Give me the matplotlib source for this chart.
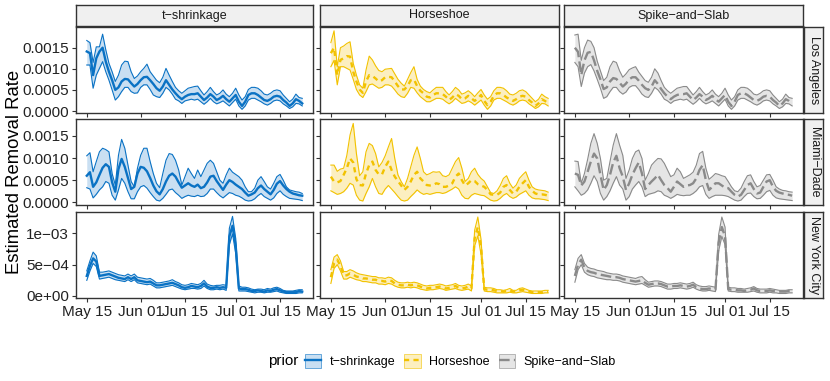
import numpy as np
import pandas as pd
import matplotlib
matplotlib.use("Agg")
import matplotlib.pyplot as plt
import matplotlib.dates as mdates
from matplotlib.patches import Patch
from matplotlib.lines import Line2D

plt.rcParams['font.family'] = ['Liberation Sans', 'DejaVu Sans']

# daily estimates from May 15, values in units of 1e-5
start_date = "2020-05-15"
cities = ["Los Angeles", "Miami\u2212Dade", "New York City"]
priors = ["t\u2212shrinkage", "Horseshoe", "Spike\u2212and\u2212Slab"]

##===================== Los Angeles =====================
la_t_hi = [167,162,115,152,152,182,145,113,93,70, 85,109,118,117,93,77,83,93,101,111,
           93,83,73,67,80,101,85,70,56,48, 42,48,54,56,58,59,48,38,46,56,
           46,38,42,50,40,34,42,54,38,26, 34,51,56,56,54,48,40,38,42,48, 50,48,38,30,22,28,40,32,30]
la_t_mid = [141,137,85,125,141,150,117,93,73,50, 56,70,76,75,66,58,64,73,80,81,
            73,64,54,48,58,73,62,51,42,34, 28,34,38,40,40,42,34,26,32,40,
            34,26,30,36,28,22,30,38,22,12, 22,38,42,42,38,32,26,24,28,34, 36,34,26,20,12,18,28,24,18]
la_t_lo = [109,109,54,85,101,117,93,73,50,26, 34,46,56,56,46,42,43,56,62,62,
           51,38,34,32,42,56,50,40,28,24, 18,24,26,28,26,28,22,16,22,30,
           22,17,20,24,18,12,20,28,12,4, 12,26,30,30,26,22,17,14,18,24, 26,24,17,12,6,10,18,17,12]

la_hs_hi = [162,190,105,150,154,160,164,113,85,62, 54,97,130,121,107,96,93,99,100,101,
            88,75,66,59,75,91,105,75,59,51, 46,43,50,56,56,56,46,38,46,56,
            50,40,43,48,42,34,43,51,38,28, 34,48,56,56,54,48,40,38,42,48, 50,46,38,30,22,28,40,34,30]
la_hs_mid = [137,150,85,121,125,130,129,93,70,51, 43,70,85,83,77,70,73,80,81,80,
             70,59,51,51,59,73,75,59,48,42, 34,32,38,42,42,40,34,26,32,40,
             36,28,30,36,30,24,30,38,24,14, 22,36,42,42,38,32,28,24,28,34, 36,34,26,20,12,18,28,24,18]
la_hs_lo = [105,120,62,105,105,101,97,75,51,38, 32,46,62,64,59,54,56,62,62,59,
            50,40,34,32,42,56,54,43,34,28, 22,22,26,30,30,28,22,17,22,30,
            24,18,20,24,20,14,20,26,14,4, 12,26,30,30,26,22,17,14,18,24, 26,24,17,12,6,10,18,17,12]

la_ss_hi = [180,182,120,150,168,165,150,118,95,72, 80,105,118,115,95,80,88,98,102,105,
            92,82,72,68,80,100,90,72,56,48, 42,48,54,56,58,58,48,38,46,56,
            46,38,42,50,40,34,42,54,38,26, 34,50,56,56,54,48,40,38,42,48, 50,48,38,30,22,28,40,32,30]
la_ss_mid = [150,140,85,120,138,140,120,95,75,52, 56,70,78,76,67,58,65,75,80,80,
             72,62,54,50,58,73,64,52,42,34, 28,34,38,40,40,42,34,26,32,40,
             34,26,30,36,28,22,30,38,22,12, 22,38,42,42,38,32,26,24,28,34, 36,34,26,20,12,18,28,24,18]
la_ss_lo = [115,105,58,90,105,110,95,75,54,30, 34,46,56,56,46,40,45,56,60,60,
            51,40,34,32,42,56,50,40,28,24, 18,24,26,28,26,28,22,16,22,30,
            22,17,20,24,18,12,20,28,12,4, 12,26,30,30,26,22,17,14,18,24, 26,24,17,12,6,10,18,17,12]

##===================== Miami-Dade =====================
mi_t_hi = [105,112,69,92,114,122,119,114,65,39, 106,142,122,84,47,35,77,106,122,122,
           92,65,43,33,65,95,110,108,95,73, 39,58,77,65,54,73,58,73,88,95,
           88,69,50,43,62,77,68,63,58,50, 35,24,24,32,50,58,47,35,30,43, 58,63,50,35,28,26,24,23,20]
mi_t_mid = [60,68,35,45,62,78,86,80,45,24, 75,98,80,55,30,35,65,80,78,70,
            55,38,25,18,30,47,60,65,58,45, 33,38,43,38,35,40,32,35,45,58,
            60,48,38,28,40,50,46,40,35,30, 22,15,18,22,32,38,30,24,18,28, 42,48,38,30,24,20,18,16,15]
mi_t_lo = [33,30,10,18,28,35,47,43,16,5, 28,54,43,24,8,8,24,35,38,32,
           22,13,5,3,9,18,28,30,22,16, 9,13,16,14,13,16,13,14,20,30,
           30,22,15,10,16,22,20,16,14,10, 5,3,4,8,15,20,13,9,5,10, 20,26,18,13,9,8,7,6,4]

mi_hs_hi = [84,84,70,75,77,106,152,178,110,60, 69,114,133,128,110,80,90,105,125,144,
            99,62,47,35,54,80,106,125,99,69, 62,65,69,68,69,60,58,62,77,92,
            101,77,47,54,69,77,63,54,48,35, 22,20,26,38,54,60,43,32,39,54, 62,69,50,35,30,28,27,26,23]
mi_hs_mid = [58,47,45,48,62,77,99,90,52,39, 38,65,84,92,73,63,63,80,92,73,
             58,48,38,28,35,47,62,69,54,47, 39,38,39,43,41,35,35,38,43,58,
             65,50,38,43,50,48,41,38,35,28, 18,17,17,22,35,39,28,20,24,35, 43,50,35,26,20,18,18,17,15]
mi_hs_lo = [26,22,18,20,24,32,43,39,16,5, 3,20,35,54,35,20,18,30,38,30,
            22,13,5,3,5,13,20,28,22,18, 20,18,20,22,22,20,22,26,30,35,
            30,16,9,8,16,20,18,16,15,10, 5,3,4,9,16,20,13,9,12,18, 22,26,16,10,8,8,7,6,4]

mi_ss_hi = [93,92,43,65,97,133,155,133,99,50, 54,92,129,155,129,106,54,73,99,114,
            118,99,50,65,84,92,99,98,88,73, 58,62,77,69,54,58,62,68,84,110,
            115,77,52,58,65,63,60,58,47,35, 26,24,32,47,60,62,47,35,38,50, 62,63,50,35,30,27,26,24,23]
mi_ss_mid = [65,62,38,47,69,92,110,99,62,28, 39,62,90,105,77,58,28,43,62,77,
             90,65,30,39,47,54,62,50,39,32, 24,35,47,41,35,38,39,43,54,73,
             84,50,28,35,43,43,38,33,32,24, 17,13,17,28,39,43,30,20,22,35, 47,50,35,26,22,20,18,17,15]
mi_ss_lo = [35,26,16,20,28,43,60,47,20,5, 13,26,43,58,39,30,5,13,30,39,
            47,35,13,18,20,22,26,24,16,13, 9,13,18,16,15,16,16,20,26,35,
            38,18,9,13,16,16,16,15,13,9, 5,3,5,13,20,21,13,8,9,16, 24,27,16,10,8,7,6,5,4]

##===================== New York City =====================
ny_t_hi = [40,56,70,64,38,38,39,40,38,36, 34,33,32,35,32,35,30,29,28,27,
           28,25,21,21,22,23,24,26,23,21, 18,17,18,20,19,18,20,25,19,17,
           16,17,17,18,17,108,127,92,16,14, 14,13,11,10,11,11,10,12,11,13, 14,12,9,8,8,8,9,10,10]
ny_t_mid = [32,48,60,55,32,33,34,35,33,31, 29,28,27,30,27,30,25,24,23,22,
            23,20,17,17,18,19,20,21,19,17, 14,13,14,16,15,14,16,20,15,13,
            13,14,13,14,13,95,112,80,12,11, 11,10,8,8,9,8,7,9,8,10, 11,9,7,6,6,6,6,8,7]
ny_t_lo = [25,40,52,47,27,28,29,30,28,26, 25,24,23,26,23,26,21,20,19,18,
           19,16,13,13,14,15,16,17,15,13, 11,10,11,12,12,11,12,16,12,10,
           10,11,10,11,9,82,99,68,8,8, 8,7,6,5,6,6,5,6,6,7, 8,6,5,4,4,4,4,5,5]

ny_hs_hi = [42,62,66,56,39,39,42,40,37,35, 34,33,32,31,31,29,29,28,30,29,
            25,22,21,21,22,21,22,21,19,17, 16,17,17,18,19,18,16,17,18,20,
            17,16,17,19,16,105,126,90,14,13, 13,12,10,10,9,10,12,9,9,12, 13,11,9,8,8,8,8,9,9]
ny_hs_mid = [30,52,58,48,33,33,36,34,31,30, 28,28,27,26,26,24,24,23,25,24,
             20,18,17,17,18,17,18,17,15,13, 12,13,13,14,15,14,12,13,14,16,
             13,12,13,15,12,92,110,78,11,10, 10,9,8,8,7,8,9,7,7,9, 10,9,7,6,6,6,6,7,7]
ny_hs_lo = [20,44,50,40,27,27,30,28,26,25, 23,23,22,21,21,19,19,18,20,19,
            16,14,13,13,14,13,14,13,11,10, 9,10,10,11,12,11,9,10,11,12,
            10,9,10,11,8,80,96,66,8,7, 7,6,5,5,5,5,6,5,5,6, 7,6,5,4,4,4,4,5,5]

ny_ss_hi = [42,60,66,52,46,44,43,41,40,39, 37,36,35,35,34,32,31,30,29,28,
            30,31,26,22,23,24,24,23,21,19, 19,20,20,21,20,19,20,22,18,16,
            15,15,16,15,14,98,126,110,14,13, 13,12,12,11,12,13,15,12,11,11, 11,12,11,10,9,9,9,10,10]
ny_ss_mid = [32,50,58,45,40,38,37,35,34,33, 32,31,30,30,29,27,26,25,24,23,
             24,25,21,18,19,20,20,19,17,15, 15,16,16,17,16,15,16,18,14,12,
             11,11,12,11,10,85,110,95,11,10, 10,9,9,8,9,10,12,9,8,8, 8,9,8,7,7,7,7,8,8]
ny_ss_lo = [22,42,50,38,34,32,31,29,28,27, 26,26,25,25,24,22,21,20,19,18,
            19,20,17,14,15,16,16,15,13,11, 11,12,12,13,12,11,12,14,11,9,
            8,8,9,8,7,72,95,82,8,7, 7,6,6,6,6,7,8,6,5,5, 5,6,5,5,4,4,4,5,5]

panels = {
    (0, 0): (la_t_lo, la_t_mid, la_t_hi), (0, 1): (la_hs_lo, la_hs_mid, la_hs_hi), (0, 2): (la_ss_lo, la_ss_mid, la_ss_hi),
    (1, 0): (mi_t_lo, mi_t_mid, mi_t_hi), (1, 1): (mi_hs_lo, mi_hs_mid, mi_hs_hi), (1, 2): (mi_ss_lo, mi_ss_mid, mi_ss_hi),
    (2, 0): (ny_t_lo, ny_t_mid, ny_t_hi), (2, 1): (ny_hs_lo, ny_hs_mid, ny_hs_hi), (2, 2): (ny_ss_lo, ny_ss_mid, ny_ss_hi),
}

for key, arrs in panels.items():
    if len(set(len(a) for a in arrs)) != 1 or len(arrs[0]) != 69:
        raise ValueError(f"length mismatch {key}: {[len(a) for a in arrs]}")

dates = pd.date_range(start_date, periods=69, freq="D")

line_cols = ["#0A72C4", "#F2C200", "#8A8A8A"]
fill_cols = ["#C9DFF2", "#FCEFC0", "#E5E5E5"]
mean_dash = [None, (2.2, 1.8), (4.5, 1.8)]

W, H = 830, 381
fig = plt.figure(figsize=(W / 100, H / 100), dpi=100)

col_px = [(76, 313), (320, 559), (564, 803)]
row_px = [(27, 113), (119, 205), (212, 298)]
ylims = [(-0.000047, 0.00199), (-0.00006, 0.00188), (-0.000032, 0.00134)]
edge = "#333333"
xlo = dates[0] - pd.Timedelta(days=3.4)
xhi = dates[-1] + pd.Timedelta(days=3.4)
xticks = pd.to_datetime(["2020-05-15", "2020-06-01", "2020-06-15", "2020-07-01", "2020-07-15"])

for (r, c), (lo, mid, hi) in panels.items():
    x0, x1 = col_px[c]
    y0, y1 = row_px[r]
    ax = fig.add_axes([x0 / W, 1 - y1 / H, (x1 - x0) / W, (y1 - y0) / H])
    lo = np.array(lo) * 1e-5
    mid = np.array(mid) * 1e-5
    hi = np.array(hi) * 1e-5
    ax.fill_between(dates, lo, hi, color=fill_cols[c], lw=0)
    ax.plot(dates, lo, color=line_cols[c], lw=0.8)
    ax.plot(dates, hi, color=line_cols[c], lw=0.8)
    ln, = ax.plot(dates, mid, color=line_cols[c], lw=1.7)
    if mean_dash[c] is not None:
        ln.set_dashes(mean_dash[c])
    ax.set_xlim(xlo, xhi)
    ax.set_ylim(*ylims[r])
    ax.set_xticks(xticks)
    ax.xaxis.set_major_formatter(mdates.DateFormatter("%b %d"))
    if r == 2:
        ax.set_yticks([0, 0.0005, 0.001])
        ylabs = ["0e+00", "5e\u221204", "1e\u221203"]
    else:
        ax.set_yticks([0, 0.0005, 0.001, 0.0015])
        ylabs = ["0.0000", "0.0005", "0.0010", "0.0015"]
    if c == 0:
        ax.set_yticklabels(ylabs)
    else:
        ax.set_yticklabels([])
    if r != 2:
        ax.set_xticklabels([])
    for s in ax.spines.values():
        s.set_color(edge)
        s.set_linewidth(1.0)
    ax.tick_params(length=3, width=0.8, color=edge, labelsize=11, labelcolor="#222222", pad=2)

# top strips
for c, name in enumerate(priors):
    x0, x1 = col_px[c]
    sax = fig.add_axes([x0 / W, 1 - 26 / H, (x1 - x0) / W, 21 / H])
    sax.set_facecolor("#F0F0F0")
    sax.set_xticks([])
    sax.set_yticks([])
    for s in sax.spines.values():
        s.set_color(edge)
        s.set_linewidth(1.0)
    sax.text(0.5, 0.5, name, ha="center", va="center", fontsize=9, color="#1A1A1A", transform=sax.transAxes)

# right strips
for r, name in enumerate(cities):
    y0, y1 = row_px[r]
    sax = fig.add_axes([804 / W, 1 - y1 / H, 19 / W, (y1 - y0) / H])
    sax.set_facecolor("#F0F0F0")
    sax.set_xticks([])
    sax.set_yticks([])
    for s in sax.spines.values():
        s.set_color(edge)
        s.set_linewidth(1.0)
    sax.text(0.5, 0.5, name, ha="center", va="center", rotation=-90, fontsize=9, color="#1A1A1A",
             transform=sax.transAxes)

fig.text(15 / W, 1 - 172 / H, "Estimated Removal Rate", rotation=90, ha="center", va="center", fontsize=13.3)

# legend
handles = []
for c in range(3):
    ln = Line2D([], [], color=line_cols[c], lw=1.7)
    if mean_dash[c] is not None:
        ln.set_dashes(mean_dash[c])
    handles.append((Patch(facecolor=fill_cols[c], edgecolor=line_cols[c], lw=0.4), ln))
fig.legend(handles, priors, ncol=3, loc="center left", bbox_to_anchor=(305 / W, 1 - 361 / H),
           frameon=False, fontsize=9, handlelength=1.3, handleheight=1.35, handletextpad=0.65,
           columnspacing=0.75, borderpad=0, borderaxespad=0)
fig.text(268 / W, 1 - 361 / H, "prior", ha="left", va="center", fontsize=11)

fig.savefig("out.png", dpi=100)
